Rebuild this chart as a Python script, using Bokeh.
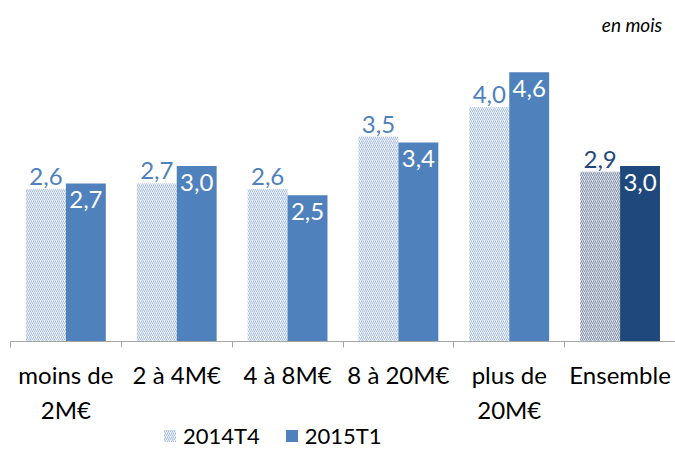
from bokeh.plotting import figure
from bokeh.layouts import column
from bokeh.models import (ColumnDataSource, Range1d, FixedTicker, Legend, LegendItem,
                          LabelSet, Label)
from bokeh.core.properties import value
from bokeh.transform import dodge
from bokeh.embed import file_html
from bokeh.resources import INLINE

categories = ["moins de\n2M€", "2 à 4M€", "4 à 8M€", "8 à 20M€", "plus de\n20M€", "Ensemble"]
s2014T4 = [2.6, 2.7, 2.6, 3.5, 4.0, 2.9]
s2015T1 = [2.7, 3.0, 2.5, 3.4, 4.6, 3.0]
series_names = ["2014T4", "2015T1"]
unit_note = "en mois"

FONT = "Lato"
xc = [i + 0.5 for i in range(len(categories))]

def fmt(v):
    return f"{v:.1f}".replace(".", ",")

LIGHT_FILL, LIGHT_HATCH = "#eef2f9", "#a9bedf"
ENS_FILL, ENS_HATCH = "#dde1e8", "#8190a8"
MID, DARK = "#4f81bd", "#1f497d"

light_fill = [LIGHT_FILL] * 5 + [ENS_FILL]
light_hatch = [LIGHT_HATCH] * 5 + [ENS_HATCH]
light_lab = [MID] * 5 + [DARK]
dark_fill = [MID] * 5 + [DARK]

src = ColumnDataSource(dict(
    x=xc, a=s2014T4, b=s2015T1,
    la=[fmt(v) for v in s2014T4], lb=[fmt(v) for v in s2015T1],
    lfill=light_fill, lhatch=light_hatch, llab=light_lab, dfill=dark_fill,
))

p = figure(width=675, height=426, output_backend="svg", toolbar_location=None,
           x_range=Range1d(0, 6), y_range=Range1d(0, 5.62),
           min_border_left=10, min_border_right=0, min_border_top=12, min_border_bottom=81)
p.outline_line_color = None
p.xgrid.visible = False
p.ygrid.visible = False
p.yaxis.visible = False
p.background_fill_color = "white"
p.border_fill_color = "white"

bw = 0.36
p.vbar(x=dodge("x", -bw / 2), top="a", width=bw, source=src,
       fill_color="lfill", line_color=None,
       hatch_pattern="/", hatch_color="lhatch", hatch_scale=4, hatch_weight=1)
p.vbar(x=dodge("x", bw / 2), top="b", width=bw, source=src,
       fill_color="dfill", line_color=None)

p.add_layout(LabelSet(x=dodge("x", -bw / 2), y="a", text="la", source=src,
                      text_align="center", text_baseline="bottom", y_offset=4,
                      text_color="llab", text_font=value(FONT), text_font_size="24px"))
p.add_layout(LabelSet(x=dodge("x", bw / 2), y="b", text="lb", source=src,
                      text_align="center", text_baseline="top", y_offset=-8,
                      text_color="white", text_font=value(FONT), text_font_size="24px"))

p.add_layout(Label(x=5.88, y=5.42, text=unit_note, text_align="right", text_baseline="middle",
                   text_font=FONT, text_font_style="italic", text_font_size="19px",
                   text_color="black"))

ax = p.xaxis[0]
ax.ticker = FixedTicker(ticks=xc, minor_ticks=list(range(len(categories) + 1)))
ax.major_label_overrides = {x: c for x, c in zip(xc, categories)}
ax.major_tick_line_color = None
ax.minor_tick_line_color = "#a6a6a6"
ax.minor_tick_out = 6
ax.minor_tick_in = 0
ax.axis_line_color = "#a6a6a6"
ax.major_label_standoff = 12
ax.major_label_text_font = FONT
ax.major_label_text_font_size = "24px"
ax.major_label_text_color = "black"
ax.major_label_text_line_height = 1.22

# legend strip (proxy bars are drawn from the same data, but fall outside this strip's range)
lg = figure(width=675, height=27, output_backend="svg", toolbar_location=None,
            x_range=Range1d(0, 6), y_range=Range1d(100, 101),
            min_border=0)
lg.outline_line_color = None
lg.axis.visible = False
lg.grid.visible = False
ra = lg.vbar(x="x", top="a", width=bw, source=src, fill_color=LIGHT_FILL, line_color=None,
             hatch_pattern="/", hatch_color=LIGHT_HATCH, hatch_scale=4, hatch_weight=1)
rb = lg.vbar(x="x", top="b", width=bw, source=src, fill_color=MID, line_color=None)
legend = Legend(items=[LegendItem(label=series_names[0], renderers=[ra]),
                       LegendItem(label=series_names[1], renderers=[rb])],
                orientation="horizontal", location=(152, 4),
                border_line_color=None, background_fill_alpha=0,
                label_text_font=FONT, label_text_font_size="22px", label_text_color="black",
                glyph_width=15, glyph_height=15, label_standoff=6, spacing=24,
                padding=0, margin=0, label_height=20)
lg.add_layout(legend, "center")

open("out.html", "w").write(file_html(column(p, lg), INLINE))
